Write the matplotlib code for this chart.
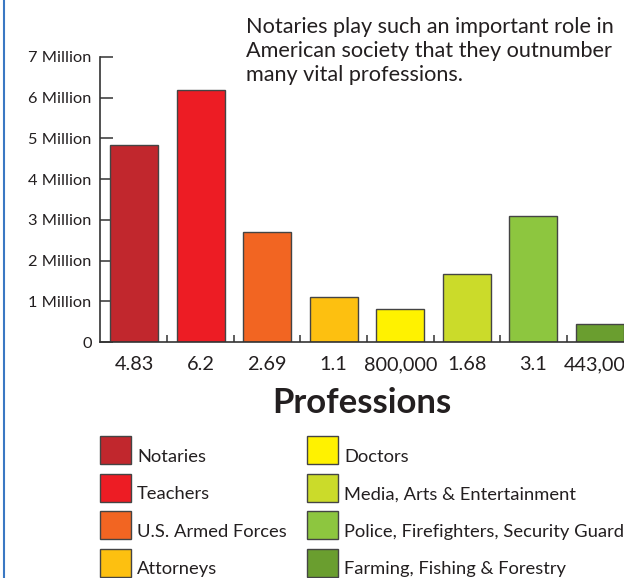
import matplotlib.pyplot as plt
from matplotlib.lines import Line2D
from matplotlib.patches import Rectangle
from matplotlib.legend_handler import HandlerPatch

# data (millions of people)
professions = ['Notaries', 'Teachers', 'U.S. Armed Forces', 'Attorneys',
               'Doctors', 'Media, Arts & Entertainment',
               'Police, Firefighters, Security Guard', 'Farming, Fishing & Forestry']
counts = [4.83, 6.2, 2.69, 1.1, 0.8, 1.68, 3.1, 0.443]
bar_labels = ['4.83', '6.2', '2.69', '1.1', '800,000', '1.68', '3.1', '443,000']
colors = ['#c1272d', '#ed1c24', '#f26522', '#fdc010',
          '#fff200', '#cbdb2a', '#8dc63f', '#6a9e2f']
ytick_vals = [0, 1, 2, 3, 4, 5, 6, 7]
ytick_labels = ['0'] + [f'{v} Million' for v in ytick_vals[1:]]

plt.rcParams['font.family'] = ['Lato', 'DejaVu Sans']
textcolor = '#231f20'
axcolor = '#333333'

fig = plt.figure(figsize=(6.24, 5.78), dpi=100)
W, H = 624, 578
ax = fig.add_axes([100/W, (H-342)/H, (W-100)/W, (342-57)/H])
ax.set_axisbelow(True)

x = list(range(len(counts)))
bars = ax.bar(x, counts, width=0.72, color=colors, edgecolor='#444444', linewidth=1.0)

ax.set_xlim(-0.51, 7.36)
ax.set_ylim(0, 7)

ax.spines['top'].set_visible(False)
ax.spines['right'].set_visible(False)
for s in ['left', 'bottom']:
    ax.spines[s].set_color(axcolor)
    ax.spines[s].set_linewidth(1.2)

ax.set_yticks(ytick_vals, ytick_labels)
ax.tick_params(axis='y', direction='in', length=9.5, width=1.1, color=axcolor,
               labelsize=11.8, labelcolor=textcolor, pad=6)

ax.set_xticks(x, bar_labels)
ax.set_xticks([i + 0.5 for i in x[:-1]], minor=True)
ax.tick_params(axis='x', which='major', length=0, labelsize=14.3, labelcolor=textcolor, pad=10)
ax.tick_params(axis='x', which='minor', direction='in', length=5, width=1.1, color=axcolor)

fig.text(246/W, 1 - 17/H,
         'Notaries play such an important role in\nAmerican society that they outnumber\nmany vital professions.',
         ha='left', va='top', fontsize=15.6, color=textcolor, linespacing=1.25)

fig.text(362/W, 1 - 403/H, 'Professions', ha='center', va='center',
         fontsize=25, fontweight='bold', color=textcolor)

# swatch sits a little higher than the label text, like the original
def raised_swatch(legend, orig_handle, xdescent, ydescent, width, height, fontsize):
    return Rectangle((-xdescent, -ydescent + 4.3), width, height)

leg = fig.legend(bars.patches, professions, ncol=2, loc='upper left',
                 bbox_to_anchor=(100/W, 1 - 442/H), frameon=False,
                 fontsize=13.2, handlelength=1.7, handleheight=2.0,
                 labelspacing=0.5, handletextpad=0.33, columnspacing=1.1,
                 borderpad=0, borderaxespad=0,
                 handler_map={Rectangle: HandlerPatch(patch_func=raised_swatch)})
for t in leg.get_texts():
    t.set_color(textcolor)

# blue frame edge on the left of the original graphic
fig.add_artist(Line2D([4/W, 4/W], [0, 1], color='#3a78c3', linewidth=1.5))

fig.savefig('out.png', dpi=100)
